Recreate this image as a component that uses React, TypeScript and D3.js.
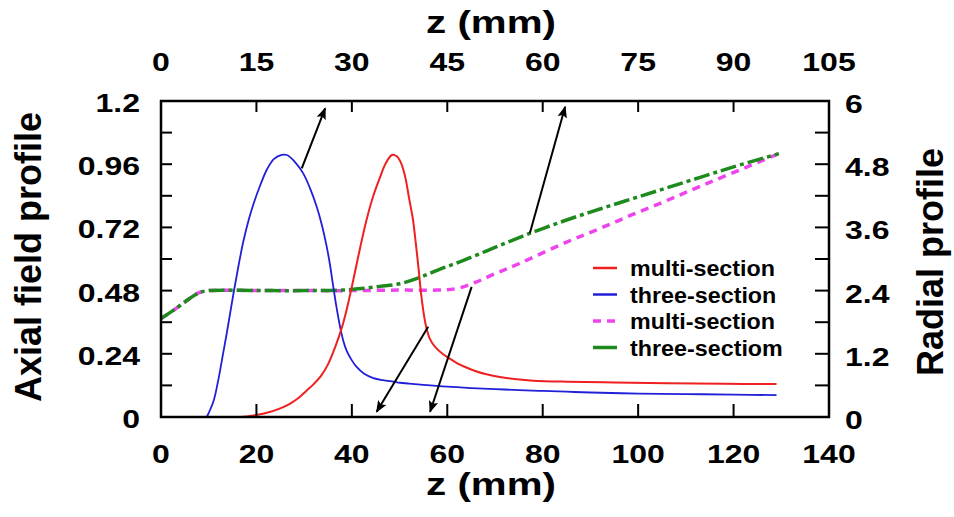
import React from "react";
import * as d3 from "d3";

// ---- data ----
// Axial field profile (left axis), [z mm, value]
const multiAxial: [number, number][] = [
  [16.6, 0], [18, 0.002], [20, 0.008], [22, 0.015], [25, 0.033], [27, 0.05], [28.8, 0.072],
  [30.5, 0.1], [32, 0.125], [33.5, 0.155], [35, 0.2], [36.5, 0.265], [38, 0.345], [39.2, 0.43],
  [40.3, 0.52], [41.7, 0.64], [43.1, 0.75], [44.5, 0.84], [45.9, 0.91], [47, 0.96], [48.4, 0.995],
  [49.4, 0.99], [50.3, 0.965], [51.2, 0.91], [52, 0.83], [52.8, 0.75], [53.4, 0.66], [54, 0.56],
  [54.5, 0.47], [55, 0.4], [55.6, 0.34], [56.4, 0.295], [57.5, 0.265], [59, 0.24], [60.5, 0.222],
  [62, 0.205], [64, 0.188], [66, 0.174], [68, 0.163], [71, 0.152], [74.6, 0.143], [78, 0.138],
  [85, 0.134], [95, 0.131], [106, 0.128], [118, 0.126], [129, 0.125],
];
const threeAxial: [number, number][] = [
  [9.6, 0], [11, 0.06], [12, 0.14], [13, 0.24], [13.8, 0.32], [15.2, 0.47], [16.3, 0.58],
  [17.3, 0.67], [18.4, 0.75], [19.4, 0.81], [20.8, 0.88], [22.2, 0.94], [23.7, 0.98], [25.3, 0.995],
  [26.4, 0.995], [28, 0.97], [29.8, 0.925], [31.2, 0.87], [32.6, 0.8], [33.7, 0.73], [34.7, 0.65],
  [35.4, 0.58], [36.1, 0.495], [36.8, 0.415], [37.5, 0.345], [38.2, 0.29], [38.9, 0.252], [40, 0.215],
  [41, 0.19], [42.5, 0.165], [44.5, 0.148], [46.5, 0.14], [48.7, 0.134], [50.1, 0.13], [52, 0.127],
  [55, 0.122], [60, 0.115], [65, 0.11], [70, 0.106], [75, 0.102], [80, 0.099], [85, 0.096],
  [90, 0.093], [100, 0.089], [110, 0.087], [120, 0.085], [129, 0.083],
];
// Radial profile (right axis)
const multiRadial: [number, number][] = [
  [0, 1.87], [3, 2.05], [6, 2.25], [8, 2.36], [10, 2.4], [20, 2.4], [30, 2.4], [40, 2.4],
  [50, 2.41], [58, 2.41], [62, 2.44], [66, 2.56], [70, 2.72], [75, 2.91], [85, 3.32], [92, 3.58],
  [99, 3.85], [106, 4.11], [113, 4.38], [121, 4.68], [129.5, 5.0],
];
const threeRadial: [number, number][] = [
  [0, 1.87], [3, 2.05], [6, 2.25], [8, 2.36], [10, 2.4], [20, 2.4], [30, 2.4], [38, 2.41],
  [42, 2.44], [46, 2.48], [50, 2.53], [54, 2.64], [58, 2.79], [63, 2.96], [70, 3.22],
  [77.4, 3.49], [85, 3.74], [92, 3.95], [99, 4.15], [106, 4.35], [113, 4.55], [120, 4.75],
  [129.5, 5.0],
];

const bottomTicks = [0, 20, 40, 60, 80, 100, 120, 140];
const topTicks = [0, 15, 30, 45, 60, 75, 90, 105];
const leftLabels = [0, 0.24, 0.48, 0.72, 0.96, 1.2];
const leftMinor = [0.12, 0.24, 0.36, 0.48, 0.6, 0.72, 0.84, 0.96, 1.08];
const rightLabels = [0, 1.2, 2.4, 3.6, 4.8, 6];
const rightMinor = [0.6, 1.2, 1.8, 2.4, 3.0, 3.6, 4.2, 4.8, 5.4];

const legendNames = ["multi-section", "three-section", "multi-section", "three-sectiom"];

// Arrow annotations [from, to] in data units, and which axis
const arrows = [
  { from: [29.5, 0.944], to: [34.4, 1.172], axis: "axial" },
  { from: [77.3, 3.49], to: [84.7, 5.89], axis: "radial" },
  { from: [56.0, 0.343], to: [45.2, 0.02], axis: "axial" },
  { from: [65.1, 2.47], to: [56.4, 0.1], axis: "radial" },
];

const COLORS = { red: "#ee2020", blue: "#2020d8", magenta: "#ee44ee", green: "#1e8a1e" };
const FONT = "'Liberation Sans', Arial, sans-serif";

export default function App() {
  const X0 = 161, X1 = 829, Y0 = 101, Y1 = 417;
  const x = d3.scaleLinear().domain([0, 140]).range([X0, X1]);
  const xTop = d3.scaleLinear().domain([0, 105]).range([X0, X1]);
  const yA = d3.scaleLinear().domain([0, 1.2]).range([Y1, Y0]);
  const yR = d3.scaleLinear().domain([0, 6]).range([Y1, Y0]);

  const curve = d3.curveCatmullRom.alpha(0.5);
  const lineA = d3.line<[number, number]>().x((d) => x(d[0])).y((d) => yA(d[1])).curve(curve);
  const lineR = d3.line<[number, number]>().x((d) => x(d[0])).y((d) => yR(d[1])).curve(curve);

  const sx = 1.28;
  const tickFont = 25;

  const legendStyles = [
    { color: COLORS.red, dash: undefined, w: 2.5 },
    { color: COLORS.blue, dash: undefined, w: 2.5 },
    { color: COLORS.magenta, dash: "8,6", w: 3.5 },
    { color: COLORS.green, dash: undefined, w: 3.5 },
  ];

  return (
    <svg width={954} height={517} style={{ position: "absolute", left: 0, top: 0, background: "#fff" }}
      fontFamily={FONT} fontWeight="bold">
      <defs>
        <marker id="arrowhead" viewBox="0 0 10 10" refX="9" refY="5" markerWidth="6" markerHeight="6" orient="auto">
          <path d="M0,1 L10,5 L0,9 L2,5 z" fill="#000" />
        </marker>
      </defs>
      <rect x={0} y={0} width={954} height={517} fill="#fff" />

      {/* curves */}
      <path d={lineR(multiRadial) || ""} fill="none" stroke={COLORS.magenta} strokeWidth={3.5} strokeDasharray="8,6" />
      <path d={lineR(threeRadial) || ""} fill="none" stroke={COLORS.green} strokeWidth={3.5} strokeDasharray="16,4,4,4" />
      <path d={lineA(threeAxial) || ""} fill="none" stroke={COLORS.blue} strokeWidth={1.8} />
      <path d={lineA(multiAxial) || ""} fill="none" stroke={COLORS.red} strokeWidth={2} />

      {/* arrows */}
      {arrows.map((a, i) => {
        const ys = a.axis === "axial" ? yA : yR;
        return (
          <line key={i} x1={x(a.from[0])} y1={ys(a.from[1])} x2={x(a.to[0])} y2={ys(a.to[1])}
            stroke="#000" strokeWidth={2} markerEnd="url(#arrowhead)" />
        );
      })}

      {/* frame */}
      <rect x={X0} y={Y0} width={X1 - X0} height={Y1 - Y0} fill="none" stroke="#000" strokeWidth={2.5} />

      {/* bottom / top ticks */}
      {bottomTicks.slice(1, -1).map((t) => (
        <line key={"bt" + t} x1={x(t)} x2={x(t)} y1={Y1} y2={Y1 - 13} stroke="#000" strokeWidth={2} />
      ))}
      {topTicks.slice(1, -1).map((t) => (
        <line key={"tt" + t} x1={xTop(t)} x2={xTop(t)} y1={Y0} y2={Y0 + 11} stroke="#000" strokeWidth={2} />
      ))}
      {leftMinor.map((t) => (
        <line key={"lt" + t} x1={X0} x2={X0 + 11} y1={yA(t)} y2={yA(t)} stroke="#000" strokeWidth={2} />
      ))}
      {rightMinor.map((t) => (
        <line key={"rt" + t} x1={X1} x2={X1 - 14} y1={yR(t)} y2={yR(t)} stroke="#000" strokeWidth={2} />
      ))}

      {/* tick labels */}
      {bottomTicks.map((t) => (
        <text key={"bl" + t} transform={`translate(${x(t)},463) scale(${sx},1)`} textAnchor="middle" fontSize={tickFont}>{t}</text>
      ))}
      {topTicks.map((t) => (
        <text key={"tl" + t} transform={`translate(${xTop(t)},71) scale(${sx},1)`} textAnchor="middle" fontSize={tickFont}>{t}</text>
      ))}
      {leftLabels.map((t) => (
        <text key={"ll" + t} transform={`translate(140,${yA(t) + 11}) scale(${sx},1)`} textAnchor="end" fontSize={tickFont}>{t}</text>
      ))}
      {rightLabels.map((t) => (
        <text key={"rl" + t} transform={`translate(845,${yR(t) + 12}) scale(${sx},1)`} textAnchor="start" fontSize={tickFont}>{t}</text>
      ))}

      {/* axis titles */}
      <text transform={`translate(491,33) scale(1.3,1)`} textAnchor="middle" fontSize={31}>z (mm)</text>
      <text transform={`translate(491,495) scale(1.3,1)`} textAnchor="middle" fontSize={31}>z (mm)</text>
      <text transform={`translate(41,257) rotate(-90)`} textAnchor="middle" fontSize={36}>Axial field profile</text>
      <text transform={`translate(943,262) rotate(-90)`} textAnchor="middle" fontSize={36}>Radial profile</text>

      {/* legend */}
      {legendNames.map((name, i) => {
        const yy = 268 + i * 26.5;
        const s = legendStyles[i];
        return (
          <g key={"lg" + i}>
            <line x1={593} x2={617} y1={yy} y2={yy} stroke={s.color} strokeWidth={s.w} strokeDasharray={s.dash} />
            <text transform={`translate(630,${yy + 8}) scale(1.06,1)`} fontSize={22}>{name}</text>
          </g>
        );
      })}
    </svg>
  );
}
